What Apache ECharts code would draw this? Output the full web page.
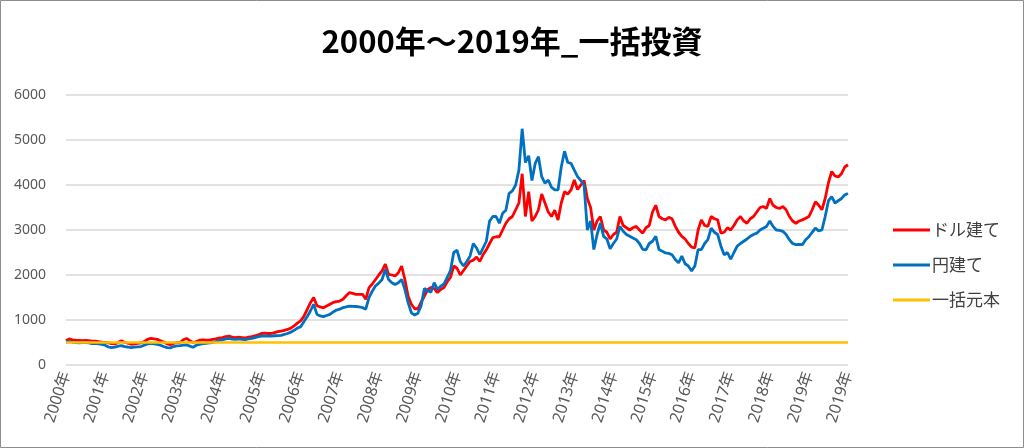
<!DOCTYPE html>
<html>
<head>
<meta charset="utf-8">
<script src="https://cdn.jsdelivr.net/npm/echarts@6/dist/echarts.min.js"></script>
<style>
html,body{margin:0;padding:0;background:#fff;}
#chart{width:1024px;height:448px;}
</style>
</head>
<body>
<div id="chart"></div>
<script>
// ---- data ----
const titleText = '2000年～2019年_一括投資';
const seriesNames = ['ドル建て', '円建て', '一括元本'];
const yearLabels = ['2000年','2001年','2002年','2003年','2004年','2005年','2006年','2007年','2008年','2009年',
  '2010年','2011年','2012年','2013年','2014年','2015年','2016年','2017年','2018年','2019年','2019年'];
const startYear = 2000;
const pointsPerLabel = 12;   // monthly points between year labels

// ドル建て (monthly, 2000-01 ... 2019-12, then last value)
const dollarValues = [
  540, 580, 560, 550, 545, 540, 545, 540, 530, 530, 520, 510,
  505, 490, 475, 470, 500, 540, 500, 485, 460, 470, 480, 490,
  520, 570, 590, 580, 570, 540, 510, 470, 450, 480, 500, 500,
  560, 590, 540, 500, 520, 550, 560, 550, 555, 570, 580, 600,
  610, 630, 640, 620, 610, 620, 610, 600, 620, 630, 650, 670,
  700, 710, 700, 700, 720, 740, 755, 770, 790, 820, 870, 930,
  980, 1080, 1230, 1380, 1500, 1320, 1290, 1270, 1310, 1350, 1390, 1410,
  1420, 1460, 1540, 1610, 1590, 1570, 1570, 1570, 1460, 1720, 1800, 1900,
  2000, 2090, 2240, 2015, 2000, 1980, 2050, 2200, 1900, 1530, 1350, 1250,
  1250, 1400, 1530, 1680, 1720, 1700, 1610, 1680, 1720, 1850, 1950, 2200,
  2150, 2000, 2100, 2200, 2300, 2330, 2400, 2300, 2450, 2560, 2700, 2830,
  2850, 2850, 3000, 3150, 3250, 3300, 3450, 3600, 4250, 3300, 3850, 3200,
  3300, 3450, 3800, 3600, 3400, 3300, 3440, 3220, 3600, 3850, 3800, 3890,
  4110, 3900, 4000, 4100, 3700, 3500, 3000, 3200, 3300, 3000, 2950, 2800,
  2900, 2950, 3300, 3100, 3050, 3000, 3050, 3080, 3000, 2930, 3050, 3100,
  3400, 3550, 3300, 3250, 3225, 3280, 3250, 3080, 2950, 2860, 2800, 2700,
  2620, 2600, 3000, 3225, 3100, 3080, 3300, 3250, 3225, 2930, 2950, 3050,
  3000, 3100, 3225, 3300, 3200, 3150, 3250, 3300, 3400, 3500, 3520, 3480,
  3700, 3550, 3500, 3480, 3520, 3450, 3300, 3200, 3150, 3200, 3225, 3260,
  3300, 3450, 3630, 3550, 3450, 3700, 4050, 4300, 4200, 4180, 4250, 4400,
  4450
];

// 円建て
const yenValues = [
  510, 525, 505, 495, 490, 500, 495, 490, 475, 480, 470, 460,
  440, 400, 385, 395, 420, 430, 410, 400, 385, 395, 405, 410,
  440, 470, 480, 470, 460, 440, 410, 385, 380, 410, 425, 430,
  440, 450, 420, 395, 440, 460, 475, 480, 490, 500, 520, 550,
  560, 580, 590, 575, 570, 580, 570, 565, 580, 590, 610, 630,
  640, 645, 640, 640, 650, 655, 660, 680, 700, 730, 770, 820,
  850, 960, 1070, 1200, 1350, 1130, 1090, 1075, 1100, 1125, 1180, 1220,
  1240, 1275, 1290, 1310, 1305, 1300, 1290, 1275, 1240, 1500, 1640, 1760,
  1820, 1900, 2125, 1900, 1830, 1790, 1830, 1900, 1680, 1385, 1160, 1110,
  1150, 1320, 1700, 1650, 1620, 1830, 1680, 1750, 1800, 1950, 2100, 2500,
  2550, 2300, 2200, 2300, 2420, 2700, 2600, 2450, 2600, 2750, 3200, 3300,
  3300, 3150, 3370, 3440, 3815, 3870, 4000, 4330, 5250, 4500, 4650, 4100,
  4480, 4630, 4185, 4040, 4110, 3950, 3890, 3890, 4400, 4750, 4500, 4480,
  4330, 4185, 4100, 4000, 3000, 3200, 2565, 2900, 3150, 2860, 2800, 2580,
  2700, 2800, 3080, 2970, 2900, 2860, 2820, 2785, 2700, 2570, 2560, 2700,
  2750, 2860, 2565, 2530, 2490, 2480, 2450, 2345, 2270, 2420, 2250, 2200,
  2090, 2200, 2565, 2565, 2700, 2785, 3040, 2950, 2900, 2640, 2450, 2500,
  2350, 2500, 2640, 2700, 2750, 2800, 2860, 2900, 2930, 3000, 3040, 3080,
  3200, 3080, 3000, 2990, 2970, 2900, 2785, 2700, 2675, 2680, 2675, 2785,
  2850, 2950, 3040, 2980, 3000, 3300, 3650, 3740, 3600, 3650, 3700, 3780,
  3810
];

// 一括元本 (lump-sum principal, constant)
const principalValue = 500;

// ---- build categories (one per monthly point) ----
const categories = dollarValues.map((_, i) => {
  const y = startYear + Math.floor(i / 12);
  const m = (i % 12) + 1;
  return y + '/' + (m < 10 ? '0' + m : m);
});
const principalValues = categories.map(() => principalValue);

const chart = echarts.init(document.getElementById('chart'));
const labelColor = '#595959';
chart.setOption({
  animation: false,
  backgroundColor: '#ffffff',
  title: {
    text: titleText,
    left: 'center',
    top: 21,
    textStyle: { fontFamily: '"Noto Sans CJK JP", sans-serif', fontSize: 31, fontWeight: 'bold', color: '#000000' }
  },
  graphic: [{
    type: 'rect', silent: true, z: -1,
    shape: { x: 0.5, y: 0.5, width: 1023, height: 447 },
    style: { fill: 'none', stroke: '#8c8c8c', lineWidth: 1 }
  }],
  legend: {
    orient: 'vertical',
    left: 888,
    top: 215,
    icon: 'rect',
    itemWidth: 37,
    itemHeight: 3,
    itemGap: 15,
    data: seriesNames,
    textStyle: { fontFamily: '"Noto Sans CJK JP", sans-serif', fontSize: 17, color: '#404040', lineHeight: 20, padding: [0, 0, 0, -3] }
  },
  grid: { left: 66, right: 176, top: 95, bottom: 83, containLabel: false },
  xAxis: {
    type: 'category',
    boundaryGap: false,
    data: categories,
    axisLine: { show: false },
    axisTick: { show: false },
    splitLine: { show: false },
    axisLabel: {
      interval: (idx) => idx % pointsPerLabel === 0,
      formatter: (val, idx) => yearLabels[Math.round(idx / pointsPerLabel)],
      rotate: 72,
      margin: 7,
      color: labelColor,
      fontSize: 16,
      fontFamily: '"Noto Sans", "Noto Sans CJK JP", sans-serif'
    }
  },
  yAxis: {
    type: 'value',
    min: 0,
    max: 6000,
    interval: 1000,
    axisLine: { show: false },
    axisTick: { show: false },
    splitLine: { lineStyle: { color: '#d9d9d9', width: 1.5 } },
    axisLabel: {
      color: labelColor, fontSize: 14, margin: 20, fontFamily: '"Noto Sans", sans-serif',
      formatter: (v) => String(v)
    }
  },
  series: [
    { name: seriesNames[0], type: 'line', data: dollarValues, showSymbol: false, symbol: 'none',
      lineStyle: { color: '#ff0000', width: 2.8 }, itemStyle: { color: '#ff0000' }, z: 2 },
    { name: seriesNames[1], type: 'line', data: yenValues, showSymbol: false, symbol: 'none',
      lineStyle: { color: '#0070c0', width: 2.8 }, itemStyle: { color: '#0070c0' }, z: 3 },
    { name: seriesNames[2], type: 'line', data: principalValues, showSymbol: false, symbol: 'none',
      lineStyle: { color: '#ffc000', width: 2.5 }, itemStyle: { color: '#ffc000' }, z: 4 }
  ]
});
</script>
</body>
</html>
